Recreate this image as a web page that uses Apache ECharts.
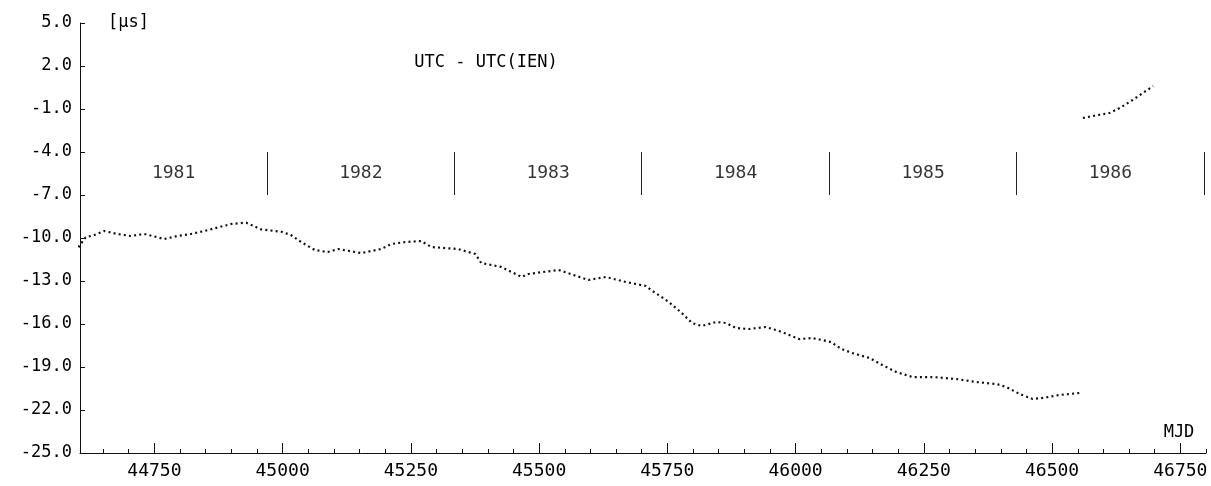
<!DOCTYPE html>
<html>
<head>
<meta charset="utf-8">
<script src="https://cdn.jsdelivr.net/npm/echarts@6.0.0/dist/echarts.min.js"></script>
<style>
  html, body { margin: 0; padding: 0; background: #fff; }
  #chart { width: 1211px; height: 486px; }
</style>
</head>
<body>
<div id="chart"></div>
<script>
// UTC - UTC(IEN), microseconds, against MJD
const mjdMain = [44602, 44616, 44633, 44652, 44678, 44704, 44730, 44756, 44769, 44795,
  44821, 44848, 44874, 44900, 44929, 44958, 44997, 45016, 45036, 45063,
  45088, 45108, 45153, 45192, 45212, 45239, 45270, 45290, 45342, 45376,
  45387, 45426, 45466, 45479, 45538, 45596, 45630, 45669, 45708, 45718,
  45733, 45753, 45778, 45798, 45817, 45845, 45864, 45884, 45909, 45942,
  45974, 46007, 46032, 46052, 46069, 46089, 46110, 46144, 46169, 46196,
  46228, 46267, 46314, 46353, 46392, 46411, 46437, 46462, 46482, 46515, 46554];
const utcMain = [-10.65, -9.95, -9.79, -9.51, -9.72, -9.86, -9.72, -9.95, -10.07, -9.86,
  -9.72, -9.51, -9.26, -9.02, -8.93, -9.40, -9.56, -9.79, -10.28, -10.84,
  -10.98, -10.77, -11.05, -10.77, -10.42, -10.28, -10.21, -10.63, -10.77, -11.12,
  -11.74, -12.02, -12.72, -12.51, -12.23, -12.93, -12.72, -13.07, -13.35, -13.63,
  -13.98, -14.47, -15.23, -15.93, -16.14, -15.86, -15.93, -16.28, -16.35, -16.21,
  -16.56, -17.05, -16.98, -17.12, -17.26, -17.74, -18.02, -18.37, -18.86, -19.35,
  -19.70, -19.70, -19.84, -20.05, -20.19, -20.40, -20.89, -21.23, -21.16, -20.95, -20.81];

// after the time step
const mjdStep = [46560, 46585, 46612, 46632, 46657, 46677, 46697];
const utcStep = [-1.63, -1.45, -1.28, -0.93, -0.37, 0.12, 0.60];

const yearNames = ['1981', '1982', '1983', '1984', '1985', '1986'];
const yearStarts = [44605, 44970, 45335, 45700, 46066, 46431, 46796];

const yTicks = [5, 2, -1, -4, -7, -10, -13, -16, -19, -22, -25];
const xLabels = [44750, 45000, 45250, 45500, 45750, 46000, 46250, 46500, 46750];
const xMinor = [];
for (let m = 44650; m <= 46800; m += 50) xMinor.push(m);

const FONT = '"DejaVu Sans Mono", "Liberation Mono", monospace';
const INK = '#111';

const yearLabelData = yearNames.map((n, i) => [(yearStarts[i] + yearStarts[i + 1]) / 2, -5.5, n]);
const separators = yearStarts.slice(1).map(m => [{ coord: [m, -4] }, { coord: [m, -7] }]);

const chart = echarts.init(document.getElementById('chart'));
chart.setOption({
  animation: false,
  backgroundColor: '#fff',
  grid: { left: 80, right: 5, top: 23, bottom: 33 },
  xAxis: [
    {
      type: 'value', min: 44605, max: 46800, position: 'bottom',
      axisLine: { onZero: false, lineStyle: { color: INK, width: 1 } },
      axisTick: { inside: true, length: 4, customValues: xMinor, lineStyle: { color: INK } },
      axisLabel: { show: false },
      splitLine: { show: false }
    },
    {
      type: 'value', min: 44605, max: 46800, position: 'bottom',
      axisLine: { show: false, onZero: false },
      axisTick: { inside: true, length: 10, customValues: xLabels, lineStyle: { color: INK } },
      axisLabel: {
        customValues: xLabels, margin: 9, color: '#000', fontFamily: FONT, fontSize: 18,
        formatter: v => String(v)
      },
      splitLine: { show: false }
    }
  ],
  yAxis: {
    type: 'value', min: -25, max: 5,
    axisLine: { show: true, onZero: false, lineStyle: { color: INK, width: 1 } },
    axisTick: { show: true, inside: true, length: 5, customValues: yTicks, lineStyle: { color: INK } },
    axisLabel: {
      customValues: yTicks, margin: 8, color: '#000', fontFamily: FONT, fontSize: 17,
      formatter: v => v.toFixed(1)
    },
    splitLine: { show: false }
  },
  graphic: [
    { type: 'text', x: 108, y: 23, style: { text: '[µs]', verticalAlign: 'middle', fill: '#000', font: '17px ' + FONT } },
    { type: 'text', x: 486, y: 63, style: { text: 'UTC - UTC(IEN)', align: 'center', verticalAlign: 'middle', fill: '#000', font: '17px ' + FONT } },
    { type: 'text', x: 1179, y: 433, style: { text: 'MJD', align: 'center', verticalAlign: 'middle', fill: '#000', font: '17px ' + FONT } }
  ],
  series: [
    {
      type: 'line', name: 'main',
      data: mjdMain.map((m, i) => [m, utcMain[i]]),
      showSymbol: false,
      lineStyle: { color: INK, width: 2.2, type: [2, 3.2], cap: 'butt' }
    },
    {
      type: 'line', name: 'step',
      data: mjdStep.map((m, i) => [m, utcStep[i]]),
      showSymbol: false,
      lineStyle: { color: INK, width: 2.2, type: [2, 3.2], cap: 'butt' }
    },
    {
      type: 'scatter', name: 'years',
      data: yearLabelData,
      symbolSize: 0,
      itemStyle: { color: 'rgba(0,0,0,0)' },
      label: {
        show: true, position: 'inside', formatter: p => p.data[2],
        color: '#000', fontFamily: FONT, fontSize: 18
      },
      silent: true,
      markLine: {
        silent: true, symbol: 'none',
        label: { show: false },
        lineStyle: { color: '#222', width: 1, type: 'solid' },
        data: separators
      }
    }
  ]
});
</script>
</body>
</html>
